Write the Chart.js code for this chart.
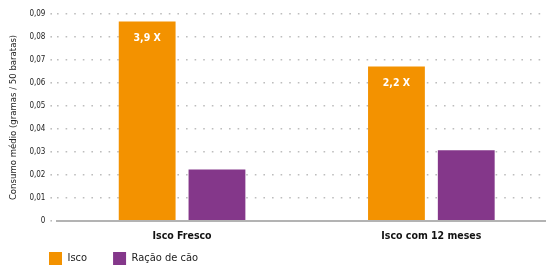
<!DOCTYPE html>
<html>
<head>
<meta charset="utf-8">
<script src="https://cdn.jsdelivr.net/npm/chart.js@4.4.0/dist/chart.umd.min.js"></script>
<style>
html,body{margin:0;padding:0;background:#fff;overflow:hidden;}
#wrap{width:556px;height:266px;position:relative;}
</style>
</head>
<body>
<div id="wrap"><canvas id="c"></canvas></div>
<script>
const categories = ["Isco Fresco", "Isco com 12 meses"];
const seriesNames = ["Isco", "Ração de cão"];
const iscoValues = [0.0867, 0.0672];
const racaoValues = [0.0224, 0.0307];
const barLabels = ["3,9 X", "2,2 X"];
const yTicks = [0, 0.01, 0.02, 0.03, 0.04, 0.05, 0.06, 0.07, 0.08, 0.09];

const FONT = '"DejaVu Sans Condensed", "Liberation Sans Narrow", sans-serif';

const labelPlugin = {
  id: 'barLabels',
  afterDatasetsDraw(chart) {
    const ctx = chart.ctx;
    const meta = chart.getDatasetMeta(0);
    ctx.save();
    ctx.fillStyle = '#ffffff';
    ctx.font = 'bold 10.5px ' + FONT;
    ctx.textAlign = 'center';
    ctx.textBaseline = 'middle';
    meta.data.forEach((bar, i) => {
      ctx.fillText(barLabels[i], bar.x, bar.y + 17);
    });
    ctx.restore();
  }
};

const legendShift = {
  id: 'legendShift',
  afterLayout(chart) {
    const lg = chart.legend;
    if (lg) {
      lg.left += 19; lg.right += 19;
      lg.top -= 25.5; lg.bottom -= 25.5;
    }
  }
};

new Chart(document.getElementById('c'), {
  type: 'bar',
  data: {
    labels: categories,
    datasets: [
      { label: seriesNames[0], data: iscoValues, backgroundColor: '#F39200' },
      { label: seriesNames[1], data: racaoValues, backgroundColor: '#84378A' }
    ]
  },
  options: {
    responsive: true,
    maintainAspectRatio: false,
    animation: false,
    devicePixelRatio: 1,
    layout: { padding: { top: 14, left: 4, right: 0, bottom: -34.5 } },
    datasets: { bar: { categoryPercentage: 0.56, barPercentage: 0.814 } },
    scales: {
      x: {
        grid: { display: false, drawTicks: false },
        border: { display: true, color: '#b3b3b3', width: 2 },
        ticks: { color: '#111', font: { family: FONT, size: 10.5, weight: 'bold' }, padding: 9 }
      },
      y: {
        min: 0, max: 0.09,
        afterBuildTicks(scale) { scale.ticks = yTicks.map(v => ({ value: v })); },
        grid: {
          color: '#bdbdbd', lineWidth: 1.6,
          drawTicks: true, tickLength: 7, tickBorderDash: [1.6, 7], tickColor: '#bdbdbd',
          borderDash: [1.6, 7]
        },
        border: { display: false, dash: [1.6, 7] },
        ticks: {
          color: '#222', padding: 5,
          font: { family: FONT, size: 8 },
          callback: (v) => v === 0 ? '0' : v.toFixed(2).replace('.', ',')
        },
        title: {
          display: true, text: 'Consumo médio (gramas / 50 baratas)',
          color: '#222', font: { family: FONT, size: 9.5 }, padding: { top: 4, bottom: 5 }
        }
      }
    },
    plugins: {
      legend: {
        position: 'bottom', align: 'start',
        labels: {
          boxWidth: 13, boxHeight: 13, padding: 26, color: '#222',
          font: { family: FONT, size: 11 }
        }
      },
      tooltip: { enabled: false }
    }
  },
  plugins: [labelPlugin, legendShift]
});
</script>
</body>
</html>
